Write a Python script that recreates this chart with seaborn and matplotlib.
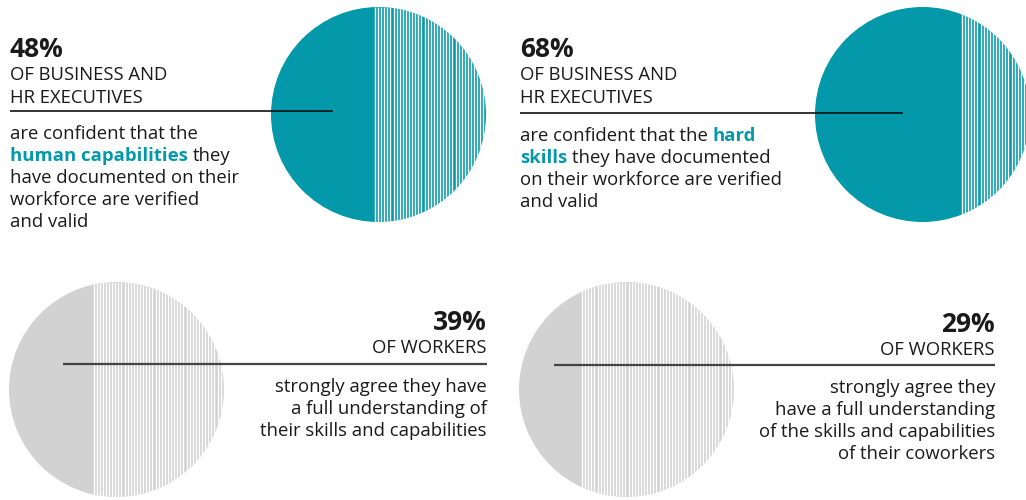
import numpy as np
import matplotlib
matplotlib.use("Agg")
import matplotlib.pyplot as plt
from matplotlib.patches import Circle
import seaborn as sns

# ── DATA ──────────────────────────────────────────────────────────────────────
pcts = [48, 68, 39, 29]
pct_labels = ["48%", "68%", "39%", "29%"]
group_labels = [
    ["OF BUSINESS AND", "HR EXECUTIVES"],
    ["OF BUSINESS AND", "HR EXECUTIVES"],
    ["OF WORKERS"],
    ["OF WORKERS"],
]
# body lines: list of segments (text, highlighted)
body_lines = [
    [[("are confident that the", False)],
     [("human capabilities", True), ("they", False)],
     [("have documented on their", False)],
     [("workforce are verified", False)],
     [("and valid", False)]],
    [[("are confident that the", False), ("hard", True)],
     [("skills", True), ("they have documented", False)],
     [("on their workforce are verified", False)],
     [("and valid", False)]],
    [[("strongly agree they have", False)],
     [("a full understanding of", False)],
     [("their skills and capabilities", False)]],
    [[("strongly agree they", False)],
     [("have a full understanding", False)],
     [("of the skills and capabilities", False)],
     [("of their coworkers", False)]],
]

TEAL = "#0499AA"
GREY = "#D2D2D2"
TEXT = "#1a1a1a"

# ── LAYOUT (pixels) ───────────────────────────────────────────────────────────
R = 107.5
centers = [(378.5, 114.5), (922.5, 114.5), (116.5, 389.5), (626.5, 389.5)]
fills = [TEAL, TEAL, GREY, GREY]
blocks = [
    dict(x=10, ha="left", y0=56.7, rule=(10, 333, 111), line_col="#111111", lw=1.2),
    dict(x=520, ha="left", y0=56.7, rule=(520, 903, 113), line_col="#111111", lw=1.2),
    dict(x=487, ha="right", y0=330, rule=(63, 487, 364), line_col="#444444", lw=1.6),
    dict(x=995, ha="right", y0=331.7, rule=(554, 995, 365), line_col="#444444", lw=1.6),
]

sns.set_theme(style="white")
plt.rcParams["font.family"] = ["Open Sans", "DejaVu Sans"]

fig = plt.figure(figsize=(10.26, 5.0), dpi=100)
ax = fig.add_axes([0, 0, 1, 1])
ax.set_xlim(0, 1026)
ax.set_ylim(500, 0)
ax.set_axis_off()
sns.despine(ax=ax, left=True, bottom=True)

# ── CIRCLES ───────────────────────────────────────────────────────────────────
for (cx, cy), p, col in zip(centers, pcts, fills):
    circ = Circle((cx, cy), R, facecolor=col, edgecolor="none", zorder=1)
    ax.add_patch(circ)
    chord = cx - R + 2 * R * p / 100.0
    xs = np.arange(chord + 0.7, cx + R, 3.1)
    lc = ax.vlines(xs, cy - R, cy + R, colors="white", linewidth=1.0, zorder=2)
    lc.set_clip_path(circ)

renderer = fig.canvas.get_renderer()


def text_width(s, **kw):
    t = ax.text(0, 0, s, **kw)
    w = t.get_window_extent(renderer).width
    t.remove()
    return w


BODY = 13.3
HEAD = 13.3
for blk, pl, gl, bl in zip(blocks, pct_labels, group_labels, body_lines):
    x, ha, y0 = blk["x"], blk["ha"], blk["y0"]
    ax.text(x, y0, pl, ha=ha, va="baseline", fontsize=19, fontweight="bold",
            color=TEXT)
    y = y0
    for g in gl:
        y += 23.3
        ax.text(x, y, g, ha=ha, va="baseline", fontsize=HEAD, color=TEXT)
    x1, x2, ry = blk["rule"]
    ax.plot([x1, x2], [ry, ry], color=blk["line_col"], lw=blk["lw"], zorder=5,
            solid_capstyle="butt")

    yb = ry + 28.3
    space = text_width("a a", fontsize=BODY) - text_width("aa", fontsize=BODY)
    for line in bl:
        if ha == "right":
            s = " ".join(seg for seg, _ in line)
            ax.text(x, yb, s, ha="right", va="baseline", fontsize=BODY,
                    color=TEXT)
        else:
            xx = x
            for seg, hl in line:
                kw = dict(fontsize=BODY,
                          fontweight="bold" if hl else "normal",
                          color=TEAL if hl else TEXT)
                t = ax.text(xx, yb, seg, ha="left", va="baseline", **kw)
                xx += t.get_window_extent(renderer).width + space
        yb += 21.8

fig.savefig("out.png", dpi=100)
